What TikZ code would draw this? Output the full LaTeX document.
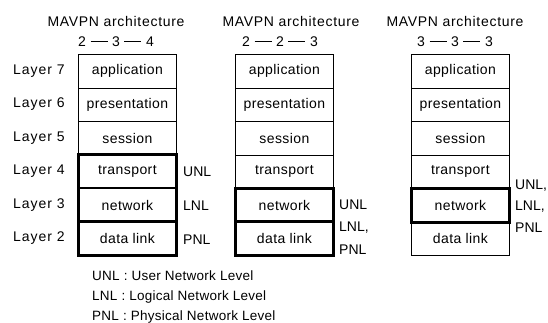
\documentclass[tikz,border=0pt]{standalone}
\usepackage{fontspec}
\setmainfont{Liberation Sans}
\newcommand{\dashbar}{\rule[0.32em]{17pt}{1.4pt}}
\begin{document}
\begin{tikzpicture}[x=1pt,y=-1pt,
  every node/.style={font=\fontsize{14}{16}\selectfont\addfontfeature{LetterSpace=3}, inner sep=0pt},
  layer/.style={draw, line width=0.8pt, minimum width=98pt, minimum height=33.5pt, anchor=north west},
  thickline/.style={line width=3pt},
  midline/.style={line width=1.6pt},
  title/.style={font=\fontsize{14}{16}\selectfont\addfontfeature{LetterSpace=5}},
  layerno/.style={font=\fontsize{14}{16}\selectfont\addfontfeature{LetterSpace=7}},
  lbl/.style={anchor=west, font=\fontsize{14}{16}\selectfont},
  legend/.style={anchor=west, font=\fontsize{13.5}{15}\selectfont\addfontfeature{LetterSpace=2}}]
\useasboundingbox (0,0) rectangle (548,322);

% three OSI stacks, rows from layer 7 down to layer 2
\foreach \s/\x in {a/78, b/235, c/411} {
  \foreach \n/\t [count=\i from 0] in {7/application, 6/presentation, 5/session, 4/transport, 3/network, 2/data link} {
    \node[layer] (\s\n) at (\x, 54+33.5*\i) {};
    \node (\s\n t) at (\s\n.center) {\t};
  }
}

% layer numbers
\foreach \n [count=\i from 0] in {7,6,5,4,3,2}
  \node[layerno] (L\n) at (39, 71+33.5*\i) {Layer \n};

% titles
\node[title] (ta) at (116, 21) {MAVPN architecture};
\node[title] (na) at (116, 42) {2 \dashbar{} 3 \dashbar{} 4};
\node[title] (tb) at (291, 21) {MAVPN architecture};
\node[title] (nb) at (280, 42) {2 \dashbar{} 2 \dashbar{} 3};
\node[title] (tc) at (455, 21) {MAVPN architecture};
\node[title] (nc) at (455, 42) {3 \dashbar{} 3 \dashbar{} 3};

% emphasised network levels
\draw[thickline] (a4.north west) rectangle (a2.south east);
\draw[thickline] (a2.north west) -- (a2.north east);
\draw[midline] (a3.north west) -- (a3.north east);
\draw[thickline] (b3.north west) rectangle (b2.south east);
\draw[thickline] (b2.north west) -- (b2.north east);
\draw[thickline] (c3.north west) rectangle (c3.south east);

% level labels
\node[lbl] (ua) at (183, 172) {UNL};
\node[lbl] (la) at (183, 206) {LNL};
\node[lbl] (pa) at (183, 240) {PNL};
\node[lbl] (ub) at (339, 205) {UNL};
\node[lbl] (lb) at (339, 228) {LNL,};
\node[lbl] (pb) at (339, 250) {PNL};
\node[lbl] (uc) at (515, 186) {UNL,};
\node[lbl] (lc) at (515, 207) {LNL,};
\node[lbl] (pc) at (515, 228) {PNL};

% legend
\node[legend] (g1) at (92, 276) {UNL : User Network Level};
\node[legend] (g2) at (92, 297) {LNL : Logical Network Level};
\node[legend] (g3) at (92, 317) {PNL : Physical Network Level};
\end{tikzpicture}
\end{document}
